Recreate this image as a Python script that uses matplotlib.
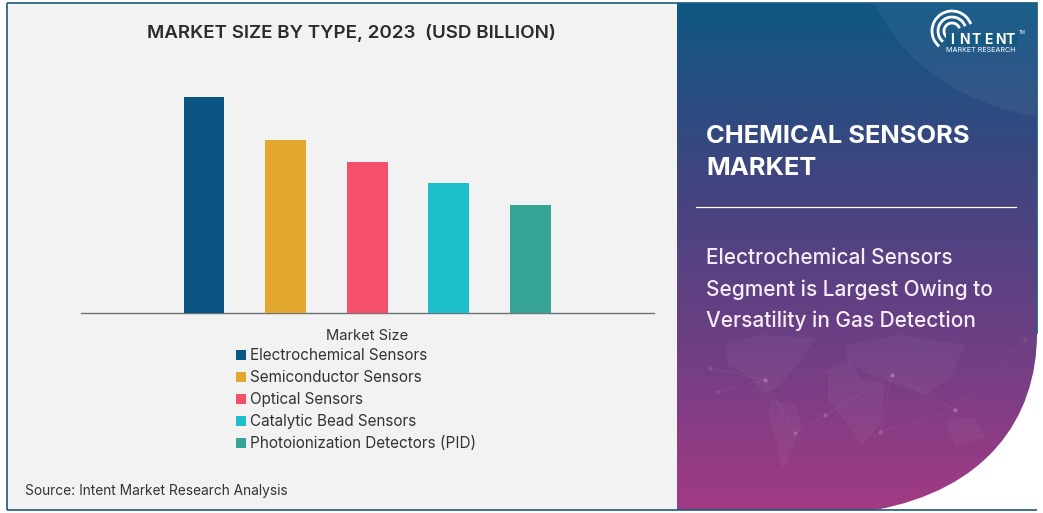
import numpy as np
import matplotlib
matplotlib.use("Agg")
import matplotlib.pyplot as plt
from matplotlib.patches import PathPatch, Rectangle, Arc, Polygon
from matplotlib.path import Path
from matplotlib.colors import LinearSegmentedColormap

W, H = 1043, 513

# data (no axis on the chart, values read relative to the tallest bar)
categories = ["Electrochemical Sensors", "Semiconductor Sensors", "Optical Sensors",
              "Catalytic Bead Sensors", "Photoionization Detectors (PID)"]
values = [10.0, 8.0, 7.0, 6.0, 5.0]
colors = ["#0b5583", "#e3a72f", "#f5506b", "#1cbfca", "#36a596"]

plt.rcParams["font.family"] = ["Inter", "DejaVu Sans"]

fig = plt.figure(figsize=(W / 100, H / 100), dpi=100, facecolor="white")

# page layer in pixel coordinates, y going down
bg = fig.add_axes([0, 0, 1, 1])
bg.axis("off")

bg.add_patch(Rectangle((7, 3), 670, 507, fc="#f2f2f2", ec="none", zorder=1))

# gradient side panel with the curved corner
panel_path = Path(
    [(677, 3), (1037, 3), (1037, 333), (1037, 420), (985, 490), (875, 510), (677, 510), (677, 3)],
    [Path.MOVETO, Path.LINETO, Path.LINETO, Path.CURVE4, Path.CURVE4, Path.CURVE4, Path.LINETO, Path.CLOSEPOLY],
)
cmap = LinearSegmentedColormap.from_list("panel", ["#0e5784", "#3f4580", "#6d3f84", "#a23a84"])
grad = bg.imshow(np.linspace(0, 1, 256).reshape(-1, 1), extent=(677, 1037, 510, 3),
                 cmap=cmap, aspect="auto", zorder=2)
patch = PathPatch(panel_path, fc="none", ec="none", zorder=2)
bg.add_patch(patch)
grad.set_clip_path(patch)
bg.set_xlim(0, W)
bg.set_ylim(H, 0)

# lighter swoosh, top right
swoosh = Path([(875, 3), (905, 70), (970, 105), (1037, 117), (1037, 3), (875, 3)],
              [Path.MOVETO, Path.CURVE4, Path.CURVE4, Path.CURVE4, Path.LINETO, Path.CLOSEPOLY])
bg.add_patch(PathPatch(swoosh, fc="white", ec="none", alpha=0.05, zorder=3))

# faint world map behind the panel text
land = [
    [(725, 345), (760, 335), (815, 338), (800, 362), (780, 385), (765, 395), (748, 375), (728, 365)],
    [(772, 400), (795, 405), (802, 425), (790, 455), (782, 470), (776, 440), (768, 415)],
    [(828, 370), (850, 362), (860, 378), (885, 385), (880, 425), (862, 445), (848, 425), (828, 400)],
    [(845, 345), (900, 335), (965, 345), (950, 378), (925, 395), (900, 385), (870, 375), (848, 362)],
    [(945, 420), (975, 418), (985, 438), (955, 445)],
]
for pts in land:
    bg.add_patch(Polygon(pts, closed=True, fc="white", ec="none", alpha=0.04, zorder=3))
for x0, y0, x1, y1 in [(710, 368, 765, 380), (765, 380, 795, 433), (795, 433, 825, 415),
                       (825, 415, 892, 375), (892, 375, 955, 410), (955, 410, 1025, 340),
                       (718, 392, 765, 380), (892, 375, 880, 432), (880, 432, 955, 410)]:
    bg.plot([x0, x1], [y0, y1], color="white", lw=0.5, alpha=0.07, zorder=3)
    bg.scatter([x0, x1], [y0, y1], s=9, color="white", alpha=0.09, lw=0, zorder=3)

# frame
for x0, y0, x1, y1 in [(7, 3, 1037, 3), (7, 510, 1037, 510), (7, 3, 7, 510)]:
    bg.plot([x0, x1], [y0, y1], color="#1b5a7c", lw=1.2, zorder=5, solid_capstyle="butt")
bg.plot([1037, 1037], [3, 333], color="#1b5a7c", lw=1.2, zorder=5)

# panel text
bg.text(706, 136.5, "CHEMICAL SENSORS", color="white", fontsize=18.4, fontweight="bold", va="center", zorder=6)
bg.text(706, 168.5, "MARKET", color="white", fontsize=18.4, fontweight="bold", va="center", zorder=6)
bg.plot([696, 1016], [206.5, 206.5], color="white", lw=0.9, zorder=6)
for y, s in [(258, "Electrochemical Sensors"), (290, "Segment is Largest Owing to"),
             (321, "Versatility in Gas Detection")]:
    bg.text(706, y, s, color="#f6eef6", fontsize=15, fontweight="medium", va="center", zorder=6)

# logo
for r in [8, 14, 20]:
    bg.add_patch(Arc((952, 31), r * 2, r * 2, theta1=130, theta2=340, color="white", lw=2.0, zorder=6))
bg.add_patch(Rectangle((946, 34), 72, 12, fc="#155a80", ec="none", zorder=7))
for lx, ch in zip([952, 964, 976, 988, 1000, 1010], "INTENT"):
    bg.text(lx, 40, ch, color="white", fontsize=10, fontweight="bold", ha="center", va="center", zorder=8)
bg.text(981, 50, "MARKET RESEARCH", color="white", fontsize=5.2, ha="center", va="center", zorder=8)
bg.text(1022, 33, "TM", color="white", fontsize=3.2, ha="center", va="center", zorder=8)

# chart text
bg.text(351, 33, "MARKET SIZE BY TYPE, 2023  (USD BILLION)", color="#2b2b2b", fontsize=13.5,
        fontweight="semibold", ha="center", va="center", zorder=6)
bg.text(367, 336, "Market Size", color="#333333", fontsize=10.6, ha="center", va="center", zorder=6)
bg.text(25, 491, "Source: Intent Market Research Analysis", color="#333333", fontsize=9.9, va="center", zorder=6)

# bars, baseline at y=313 px and 10.0 at y=97 px
ax = fig.add_axes([81 / W, 1 - 313 / H, (654 - 81) / W, 216 / H], facecolor="none")
x = np.arange(len(values))
ax.bar(x, values, width=0.5, color=colors, zorder=3)
ax.set_xlim(-1.507, 5.515)
ax.set_ylim(0, 10)
ax.set_xticks([])
ax.set_yticks([])
for s in ["top", "left", "right"]:
    ax.spines[s].set_visible(False)
ax.spines["bottom"].set_color("#6b7278")
ax.spines["bottom"].set_linewidth(1.0)

# legend by hand so the rows sit like the original
for i, (name, c) in enumerate(zip(categories, colors)):
    y = 355 + i * 22
    bg.add_patch(Rectangle((236, y - 5), 10, 10, fc=c, ec="none", zorder=6))
    bg.text(250, y + 0.5, name, color="#333333", fontsize=11, va="center", zorder=6)

fig.savefig("out.png", dpi=100, facecolor="white")
